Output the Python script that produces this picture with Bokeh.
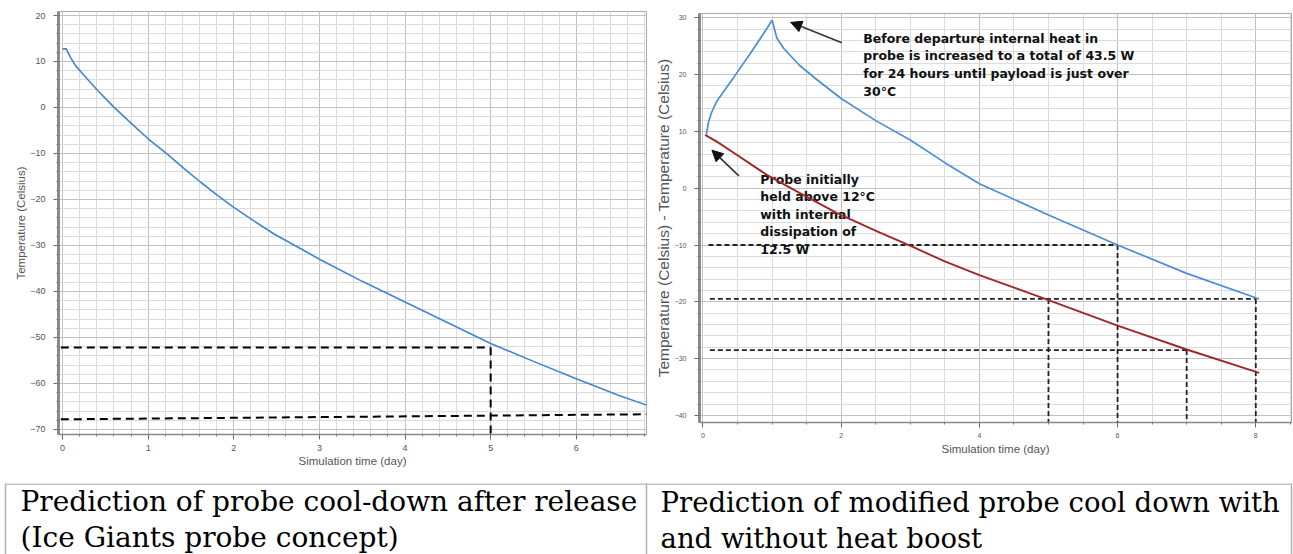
from bokeh.plotting import figure
from bokeh.layouts import row, column
from bokeh.models import Range1d, SingleIntervalTicker, Arrow, NormalHead
from bokeh.core.properties import value
from bokeh.embed import file_html
from bokeh.resources import INLINE

# ---------------- left chart: probe cool-down after release ----------------
release_days = [0, 0.043, 0.093, 0.152, 0.25, 0.405, 0.6, 0.806, 1.0, 1.22, 1.42,
                1.61, 1.81, 2.0, 2.23, 2.47, 2.82, 3.0, 3.5, 4.0, 4.5, 5.0, 5.5,
                6.0, 6.5, 6.85]
release_temps = [12.75, 12.75, 10.9, 9.1, 7.0, 3.8, 0.07, -3.5, -6.8, -10.1, -13.3,
                 -16.2, -19.1, -21.7, -24.6, -27.5, -31.1, -33.0, -37.8, -42.3, -46.8,
                 -51.3, -55.2, -59.0, -62.6, -64.9]
release_mark_day = [5.0]
release_mark_temp = [-52.2]
release_floor_days = [-0.02, 6.82]
release_floor_temps = [-67.8, -66.7]

# ---------------- right chart: with and without heat boost ----------------
boost_days = [0.05, 0.08, 0.12, 0.2, 0.45, 0.69, 0.93, 1.0, 1.07, 1.17, 1.4, 1.65, 2.0,
              2.5, 3.0, 3.5, 4.0, 5.0, 6.0, 7.0, 8.05]
boost_temps = [9.5, 11.6, 13.2, 15.3, 19.6, 23.8, 28.2, 29.6, 26.4, 24.6, 21.6, 19.1, 15.8,
               11.9, 8.5, 4.5, 0.8, -4.7, -10.0, -15.0, -19.5]
base_days = [0.03, 0.2, 0.45, 0.93, 1.41, 1.94, 2.52, 3.03, 3.5, 4.0, 5.0, 6.0, 7.0, 8.05]
base_temps = [9.4, 8.2, 6.2, 2.3, -0.9, -4.4, -7.6, -10.3, -12.9, -15.3, -19.7, -24.2,
              -28.4, -32.5]
guide_h_temps = [-10.0, -19.5, -28.5]
guide_h_start = [0.08, 0.1, 0.1]
guide_h_end = [6.0, 8.0, 7.0]
guide_v_days = [5.0, 6.0, 7.0, 8.0]
guide_v_temps = [-19.5, -10.0, -28.5, -19.5]

boost_note = ("Before departure internal heat in\nprobe is increased to a total of 43.5 W\n"
              "for 24 hours until payload is just over\n30\u00b0C")
base_note = "Probe initially\nheld above 12\u00b0C\nwith internal\ndissipation of\n12.5 W"

captions_left = ["Prediction of probe cool-down after release", "(Ice Giants probe concept)"]
captions_right = ["Prediction of modified probe cool down with", "and without heat boost"]

SANS = "Liberation Sans"


def style(p, xt, yt, tick_size, ylab_size, y_axis_w):
    p.background_fill_color = "white"
    p.border_fill_color = "white"
    p.outline_line_color = "#a8a8a8"
    p.outline_line_width = 1
    p.xaxis.ticker = xt
    p.yaxis.ticker = yt
    p.xgrid.ticker = xt
    p.ygrid.ticker = yt
    for g in (p.xgrid, p.ygrid):
        g.grid_line_color = "#c2c2c2"
        g.grid_line_width = 1
        g.minor_grid_line_color = "#dcdcdc"
        g.minor_grid_line_width = 1
    p.axis.axis_line_color = "#8a8a8a"
    p.yaxis.axis_line_width = y_axis_w
    p.xaxis.axis_line_width = 1.5
    p.axis.major_tick_line_color = "#666666"
    p.axis.minor_tick_line_color = "#777777"
    p.axis.major_tick_in = 0
    p.axis.major_tick_out = 5
    p.axis.minor_tick_in = 0
    p.axis.minor_tick_out = 2
    p.axis.major_label_text_font = SANS
    p.axis.major_label_text_font_size = tick_size
    p.axis.major_label_text_color = "#555555"
    p.axis.axis_label_text_font = SANS
    p.axis.axis_label_text_font_style = "normal"
    p.axis.axis_label_text_color = "#555555"
    p.xaxis.axis_label_text_font_size = "11.5px"
    p.yaxis.axis_label_text_font_size = ylab_size


# ---------- left figure ----------
lx0, ly0 = -0.047, -71.1
left = figure(width=647, height=483, x_range=Range1d(lx0, 6.82), y_range=Range1d(ly0, 20.87),
              output_backend="svg", toolbar_location=None, frame_align=False,
              min_border_left=58, min_border_right=1, min_border_top=11, min_border_bottom=49)
style(left, SingleIntervalTicker(interval=1, num_minor_ticks=5),
      SingleIntervalTicker(interval=10, num_minor_ticks=5), "9px", "11.5px", 3)
left.xaxis.axis_label = "Simulation time (day)"
left.yaxis.axis_label = "Temperature (Celsius)"
left.yaxis.major_label_standoff = 8
left.yaxis.axis_label_standoff = 0
left.xaxis.major_label_standoff = 5
left.xaxis.axis_label_standoff = 1

left.segment(x0=[release_floor_days[0]], y0=release_mark_temp, x1=release_mark_day,
             y1=release_mark_temp, line_color="black", line_width=2, line_dash="8 5")
left.segment(x0=release_mark_day, y0=release_mark_temp, x1=release_mark_day, y1=[ly0],
             line_color="black", line_width=2, line_dash="8 5")
left.line(release_floor_days, release_floor_temps, line_color="black", line_width=2,
          line_dash="8 5")
left.line(release_days, release_temps, line_color="#3f86d6", line_width=1.6)

# ---------- right figure ----------
rx0, ry0 = -0.05, -41.25
right = figure(width=646, height=483, x_range=Range1d(rx0, 8.517), y_range=Range1d(ry0, 30.76),
               output_backend="svg", toolbar_location=None, frame_align=False,
               min_border_left=52, min_border_right=2, min_border_top=13, min_border_bottom=61)
style(right, SingleIntervalTicker(interval=2, num_minor_ticks=4),
      SingleIntervalTicker(interval=10, num_minor_ticks=5), "7px", "15.5px", 3)
right.xaxis.axis_label = "Simulation time (day)"
right.yaxis.axis_label = "Temperature (Celsius) - Temperature (Celsius)"
right.yaxis.major_label_standoff = 8
right.yaxis.axis_label_standoff = 0
right.xaxis.major_label_standoff = 5
right.xaxis.axis_label_standoff = 2

right.segment(x0=guide_h_start, y0=guide_h_temps, x1=guide_h_end, y1=guide_h_temps,
              line_color="#222222", line_width=1.8, line_dash="5 3")
right.segment(x0=guide_v_days, y0=guide_v_temps, x1=guide_v_days, y1=[ry0] * len(guide_v_days),
              line_color="#222222", line_width=1.8, line_dash="5 3")

right.text(x=[2.32], y=[27.7], text=[boost_note], text_font=value("DejaVu Sans"),
           text_font_style="bold", text_font_size="12.5px", text_line_height=1.17,
           text_baseline="top", text_align="left", text_color="#111111")
right.text(x=[0.83], y=[2.9], text=[base_note], text_font=value("DejaVu Sans"),
           text_font_style="bold", text_font_size="12.5px", text_line_height=1.17,
           text_baseline="top", text_align="left", text_color="#111111")

right.line(boost_days, boost_temps, line_color="#4a8ed8", line_width=1.7)
right.line(base_days, base_temps, line_color="#a02828", line_width=1.9)

right.add_layout(Arrow(end=NormalHead(size=11, fill_color="#111111", line_color="#111111"),
                       x_start=2.01, y_start=25.6, x_end=1.27, y_end=29.2,
                       line_color="#333333", line_width=1.6))
right.add_layout(Arrow(end=NormalHead(size=11, fill_color="#111111", line_color="#111111"),
                       x_start=0.52, y_start=2.17, x_end=0.13, y_end=6.7,
                       line_color="#333333", line_width=1.6))

# ---------- caption strip ----------
cap = figure(width=1293, height=71, x_range=Range1d(0, 1293), y_range=Range1d(71, 0),
             output_backend="svg", toolbar_location=None, min_border=0,
             x_axis_type=None, y_axis_type=None)
cap.grid.visible = False
cap.outline_line_color = None
cap.background_fill_color = "white"
cap.border_fill_color = "white"
cap.segment(x0=[5, 5, 646, 1291], y0=[0.5, 0, 0, 0], x1=[1291, 5, 646, 1291],
            y1=[0.5, 71, 71, 71], line_color="#b0b0b0", line_width=1.5)
cap.text(x=[20, 20], y=[18, 54], text=captions_left, text_font=value("DejaVu Serif"),
         text_font_size="28px", text_baseline="alphabetic", text_color="black")
cap.text(x=[660, 660], y=[18, 54], text=captions_right, text_font=value("DejaVu Serif"),
         text_font_size="27.5px", text_baseline="alphabetic", text_color="black")

layout = column(row(left, right), cap)
open("out.html", "w").write(file_html(layout, INLINE))
